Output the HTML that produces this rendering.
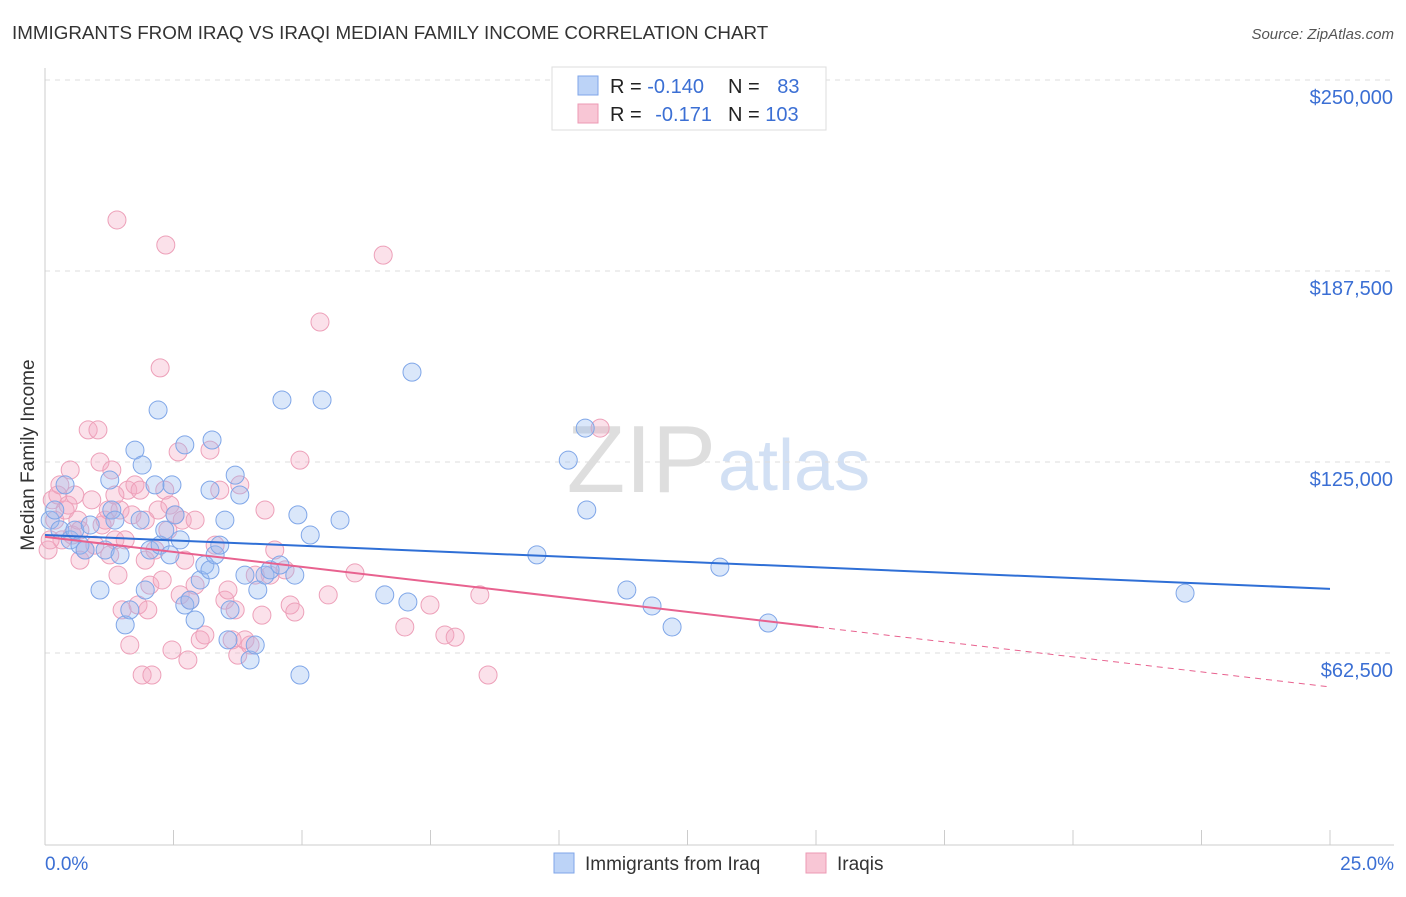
<!DOCTYPE html>
<html><head><meta charset="utf-8"><style>
body{margin:0;background:#fff;font-family:"Liberation Sans",sans-serif}
svg text{font-family:"Liberation Sans",sans-serif}
</style></head><body>
<svg id="chart" width="1406" height="892" xmlns="http://www.w3.org/2000/svg">
<text x="12" y="39" font-size="18.8" fill="#333">IMMIGRANTS FROM IRAQ VS IRAQI MEDIAN FAMILY INCOME CORRELATION CHART</text>
<text x="1394" y="39" font-size="15" fill="#555" font-style="italic" text-anchor="end">Source: ZipAtlas.com</text>
<text x="716" y="492" font-size="96" fill="#dedede" text-anchor="end" font-family="Liberation Serif">ZIP</text>
<text x="718" y="490" font-size="72" fill="#d2e0f4">atlas</text>
<g id="grid"></g><g id="axes"></g><g id="pts"></g><g id="lines"></g>
<text x="34" y="455" font-size="19" fill="#333" text-anchor="middle" transform="rotate(-90 34 455)">Median Family Income</text>
<text x="45" y="870" font-size="19" fill="#3b6fd4">0.0%</text>
<text x="1394" y="870" font-size="19" fill="#3b6fd4" text-anchor="end">25.0%</text>
<g>
<rect x="552" y="67" width="274" height="63" fill="#fff" stroke="#ddd"/>
<rect x="578" y="76" width="20" height="19" fill="#bcd3f7" stroke="#7fa6e8"/>
<rect x="578" y="104" width="20" height="19" fill="#f8c6d5" stroke="#ec9ab4"/>
<text x="610" y="93" font-size="20" fill="#222">R = <tspan fill="#3b6fd4">-0.140</tspan></text>
<text x="728" y="93" font-size="20" fill="#222">N = <tspan fill="#3b6fd4" dx="12">83</tspan></text>
<text x="610" y="121" font-size="20" fill="#222">R = <tspan fill="#3b6fd4" dx="8">-0.171</tspan></text>
<text x="728" y="121" font-size="20" fill="#222">N = <tspan fill="#3b6fd4">103</tspan></text>
</g>
<g>
<rect x="554" y="853" width="20" height="20" fill="#bcd3f7" stroke="#7fa6e8"/>
<text x="585" y="870" font-size="19" fill="#333">Immigrants from Iraq</text>
<rect x="806" y="853" width="20" height="20" fill="#f8c6d5" stroke="#ec9ab4"/>
<text x="837" y="870" font-size="19" fill="#333">Iraqis</text>
</g>
</svg>
<script>
const yTicks=[62500,125000,187500,250000];
const yTickLabels=["$62,500","$125,000","$187,500","$250,000"];
const xTicks=[0,2.5,5,7.5,10,12.5,15,17.5,20,22.5,25];
const iraqX=[0.10,0.19,0.29,0.39,0.49,0.58,0.68,0.78,0.88,1.07,1.17,1.26,1.30,1.36,1.46,1.56,1.65,1.75,1.85,1.89,1.95,2.04,2.14,2.20,2.24,2.33,2.43,2.47,2.53,2.63,2.72,2.72,2.82,2.92,3.02,3.11,3.21,3.21,3.25,3.31,3.40,3.50,3.56,3.60,3.70,3.79,3.89,3.99,4.09,4.14,4.28,4.38,4.57,4.61,4.86,4.92,4.96,5.16,5.39,5.74,6.61,7.06,7.14,9.57,10.18,10.51,10.54,11.32,11.81,12.20,13.13,14.07,22.18];
const iraqY=[106.0,109.3,102.8,117.5,99.5,102.7,97.8,96.2,104.4,83.1,96.2,119.1,109.3,106.0,94.6,71.7,76.6,128.9,106.0,124.0,83.1,96.2,117.5,142.0,97.8,102.7,94.6,117.5,107.7,99.5,130.6,78.2,79.8,73.3,86.4,91.3,115.8,89.7,132.2,94.6,97.8,106.0,66.8,76.6,120.7,114.2,88.0,60.2,65.1,83.1,88.0,89.7,91.3,145.3,88.0,107.7,55.3,101.1,145.3,106.0,81.5,79.2,154.4,94.6,125.6,136.1,109.3,83.1,77.9,71.0,90.6,72.3,82.1];
const iraqiX=[0.06,0.14,0.19,0.25,0.33,0.39,0.45,0.49,0.53,0.58,0.64,0.68,0.78,0.84,0.91,0.97,1.03,1.07,1.11,1.17,1.23,1.26,1.30,1.36,1.40,1.42,1.46,1.50,1.56,1.61,1.65,1.69,1.75,1.81,1.85,1.89,1.95,2.00,2.04,2.08,2.14,2.20,2.24,2.28,2.33,2.35,2.39,2.43,2.47,2.53,2.59,2.63,2.67,2.72,2.78,2.82,2.92,3.02,3.11,3.21,3.31,3.40,3.50,3.56,3.64,3.70,3.75,3.79,3.89,3.99,4.09,4.22,4.28,4.38,4.47,4.67,4.77,4.86,4.96,5.35,5.51,6.03,6.58,7.00,7.49,7.78,7.98,8.46,8.62,10.80,0.10,0.29,1.95,2.92,0.68,1.36];
const iraqiY=[96.2,112.6,106.0,114.2,99.5,109.3,110.9,122.4,101.1,114.2,106.0,92.9,96.2,135.5,112.6,97.8,135.5,125.0,104.4,106.0,109.3,94.6,122.4,99.5,204.2,88.0,109.3,76.6,99.5,115.8,65.1,107.7,117.5,78.2,115.8,55.3,92.9,76.6,84.7,55.3,96.2,109.3,155.8,86.4,115.8,196.0,102.7,110.9,63.5,107.7,128.3,81.5,106.0,92.9,60.2,79.8,84.7,66.8,68.4,128.9,97.8,115.8,79.8,83.1,66.8,76.6,61.8,117.5,66.8,65.1,88.0,74.9,109.3,88.0,96.2,89.7,78.2,75.9,125.6,170.8,81.5,88.7,192.7,71.0,78.2,68.4,67.7,81.5,55.3,136.1,99.5,117.5,106.0,106.0,102.7,114.2];
const iraqTrend=[101.1,83.5];
const iraqiTrend=[100.5,51.4];
const iraqiSolidEnd=[15.04];

const NS="http://www.w3.org/2000/svg";
const xs=v=>45+v/25*1285;
const ys=v=>653-(v-62.5)/62.5*191;
function mk(tag,attrs,parent){const e=document.createElementNS(NS,tag);for(const k in attrs)e.setAttribute(k,attrs[k]);document.getElementById(parent).appendChild(e);return e;}
yTicks.forEach((t,i)=>{
  const l=mk('line',{x1:45,x2:1394,y1:ys(t/1000),y2:ys(t/1000),stroke:'#dddddd','stroke-dasharray':'5,5'},'grid');
  
  
  const tx=mk('text',{x:1393,y:ys(t/1000)+24,'font-size':20,fill:'#3b6fd4','text-anchor':'end'},'grid');
  tx.textContent=yTickLabels[i];
  
  
});
const ax=mk('line',{x1:45,x2:1394,y1:845,y2:845,stroke:'#ccc'},'axes');


const ay=mk('line',{x1:45,x2:45,y1:68,y2:845,stroke:'#ccc'},'axes');


xTicks.forEach(t=>{
  const l=mk('line',{x1:xs(t),x2:xs(t),y1:830,y2:845,stroke:'#ccc'},'axes');
  
  
});
iraqiX.forEach((x,i)=>{
  const c=mk('circle',{cx:xs(x),cy:ys(iraqiY[i]),r:9,fill:'rgba(244,170,195,0.35)',stroke:'#eda0b9','stroke-width':1},'pts');
  
  
});
iraqX.forEach((x,i)=>{
  const c=mk('circle',{cx:xs(x),cy:ys(iraqY[i]),r:9,fill:'rgba(150,185,240,0.35)',stroke:'#7fa6e8','stroke-width':1},'pts');
  
  
});
const bl=mk('line',{x1:xs(0),y1:ys(iraqTrend[0]),x2:xs(25),y2:ys(iraqTrend[1]),stroke:'#2f6fd6','stroke-width':2},'lines');


const pv=x=>iraqiTrend[0]+(iraqiTrend[1]-iraqiTrend[0])*x/25;
const pl=mk('line',{x1:xs(0),y1:ys(pv(0)),x2:xs(iraqiSolidEnd[0]),y2:ys(pv(iraqiSolidEnd[0])),stroke:'#e8628f','stroke-width':2},'lines');


const pd=mk('line',{x1:xs(iraqiSolidEnd[0]),y1:ys(pv(iraqiSolidEnd[0])),x2:xs(25),y2:ys(pv(25)),stroke:'#e8628f','stroke-width':1,'stroke-dasharray':'6,5'},'lines');


</script>
</body></html>
